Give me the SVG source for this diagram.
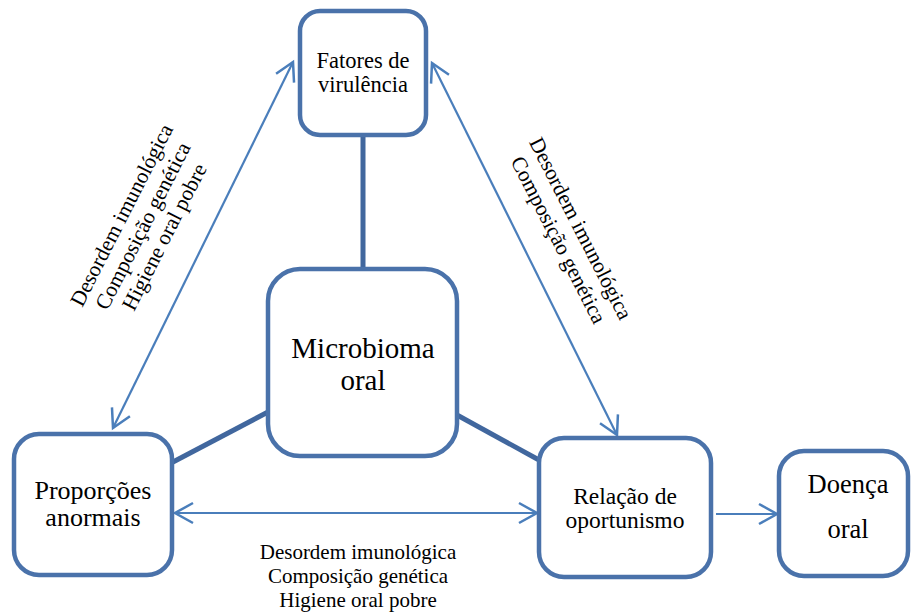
<svg xmlns="http://www.w3.org/2000/svg" width="911" height="614" viewBox="0 0 911 614">
<style>
.box{fill:#fff;stroke:#4a72aa;stroke-width:4.5}
.thick{stroke:#41679e;stroke-width:5;fill:none}
.thin{stroke:#4a7ebb;stroke-width:2.2;fill:none}
text{fill:#000;text-anchor:middle}
</style>
<defs>
<marker id="ah" markerUnits="userSpaceOnUse" viewBox="-20 -12 24 24" refX="0" refY="0" markerWidth="24" markerHeight="24" orient="auto-start-reverse">
<path d="M-18,-10 L0,0 L-18,10" fill="none" stroke="#4a7ebb" stroke-width="2.5"/>
</marker>
</defs>
<rect width="911" height="614" fill="#fff"/>
<g id="connectors">
<line class="thick" x1="363" y1="136" x2="363" y2="269"/>
<line class="thick" x1="173" y1="462" x2="268" y2="412"/>
<line class="thick" x1="457" y1="415" x2="539" y2="460"/>
<line class="thin" x1="113" y1="428" x2="293" y2="62" marker-start="url(#ah)" marker-end="url(#ah)"/>
<line class="thin" x1="432" y1="63" x2="617" y2="435" marker-start="url(#ah)" marker-end="url(#ah)"/>
<line class="thin" x1="175" y1="513" x2="537" y2="513" marker-start="url(#ah)" marker-end="url(#ah)"/>
<line class="thin" x1="716" y1="514" x2="777" y2="514" marker-end="url(#ah)"/>
</g>
<g font-family="'Liberation Serif', 'DejaVu Serif', serif">
<g id="fatores">
<rect class="box" x="300" y="11" width="126" height="124" rx="20"/>
<text x="363" y="68" font-size="22.5">Fatores de</text>
<text x="363" y="92" font-size="22.5">virulência</text>
</g>
<g id="microbioma">
<rect class="box" x="268" y="269" width="189" height="187" rx="32"/>
<text x="363" y="358" font-size="29">Microbioma</text>
<text x="363" y="390" font-size="29">oral</text>
</g>
<g id="proporcoes">
<rect class="box" x="14" y="434" width="158" height="141" rx="25"/>
<text x="93" y="499" font-size="26">Proporções</text>
<text x="93" y="526" font-size="26">anormais</text>
</g>
<g id="relacao">
<rect class="box" x="539" y="438" width="172" height="139" rx="25"/>
<text x="625" y="504" font-size="23.5">Relação de</text>
<text x="625" y="528" font-size="23.5">oportunismo</text>
</g>
<g id="doenca">
<rect class="box" x="779" y="451" width="129" height="125" rx="25"/>
<text x="848" y="493" font-size="26.5">Doença</text>
<text x="848" y="538" font-size="26.5">oral</text>
</g>
<g id="label-left" transform="translate(143,226) rotate(-63)">
<text x="0" y="-17" font-size="21.5">Desordem imunológica</text>
<text x="0" y="7" font-size="21.5">Composição genética</text>
<text x="0" y="31" font-size="21.5">Higiene oral pobre</text>
</g>
<g id="label-right" transform="translate(570,234) rotate(63)">
<text x="0" y="-5" font-size="21.5">Desordem imunológica</text>
<text x="0" y="20" font-size="21.5">Composição genética</text>
</g>
<g id="label-bottom">
<text x="358" y="559" font-size="21">Desordem imunológica</text>
<text x="358" y="583" font-size="21">Composição genética</text>
<text x="358" y="607" font-size="21">Higiene oral pobre</text>
</g>
</g>
</svg>
